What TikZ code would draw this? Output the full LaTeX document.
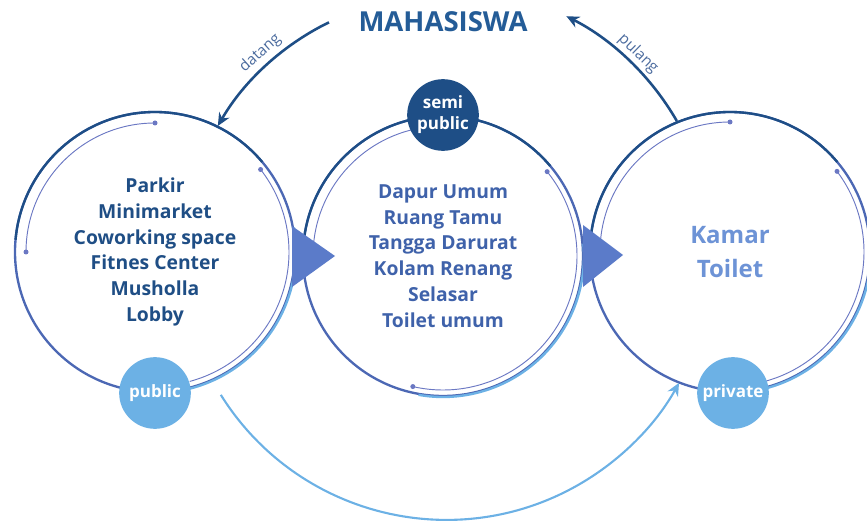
\documentclass[tikz,border=0pt]{standalone}
\usepackage{fontspec}
\setmainfont{Open Sans}
\usetikzlibrary{calc,arrows.meta}
\definecolor{navy}{HTML}{1E4E86}
\definecolor{midblue}{HTML}{4C68B4}
\definecolor{lightblue}{HTML}{6CB1E5}
\definecolor{thinblue}{HTML}{6B78C3}
\definecolor{triblue}{HTML}{5B7BC9}
\definecolor{titleblue}{HTML}{245C97}
\definecolor{listone}{HTML}{1F4E85}
\definecolor{listtwo}{HTML}{3F62AA}
\definecolor{listthree}{HTML}{6D93D6}
\definecolor{lblblue}{HTML}{4B6B9E}
\begin{document}
\begin{tikzpicture}[x=0.03cm,y=0.03cm,
  ring/.style={line width=2pt},
  thinarc/.style={line width=0.8pt,thinblue},
  flow/.style={line width=2.2pt,-{Stealth[length=11pt,width=10pt]}},
  zone/.style={circle,fill=#1,text=white,inner sep=0pt,minimum size=2.15cm,
    align=center,font=\bfseries\fontsize{14.5}{18}\selectfont},
  roomlist/.style={align=center,font=\bfseries\fontsize{16.5}{22}\selectfont},
  lbl/.style={text=lblblue,font=\fontsize{13}{15}\selectfont}]
\useasboundingbox (0,0) rectangle (867,524);

\coordinate (c1) at (155,272);
\coordinate (c2) at (443,268);
\coordinate (c3) at (730,272);

% public ring
\draw[ring,midblue] (c1) circle (140);
\draw[ring,navy] ($(c1)+(40:140)$) arc[start angle=40,end angle=175,radius=140];
\draw[ring,lightblue] ($(c1)+(10:141)$) arc[start angle=10,end angle=-90,radius=141];
\draw[thinarc] ($(c1)+(90:129)$) arc[start angle=90,end angle=180,radius=129];
\draw[thinarc] ($(c1)+(38:134)$) arc[start angle=38,end angle=-75,radius=134];
\fill[thinblue] ($(c1)+(90:129)$) circle (2.5);
\fill[thinblue] ($(c1)+(180:129)$) circle (2.5);
\fill[thinblue] ($(c1)+(38:134)$) circle (2.5);

% semi public ring
\draw[ring,midblue] (c2) circle (140);
\draw[ring,navy] ($(c2)+(40:140)$) arc[start angle=40,end angle=178,radius=140];
\draw[ring,lightblue] ($(c2)+(5:141)$) arc[start angle=5,end angle=-100,radius=141];
\draw[thinarc] ($(c2)+(100:130)$) arc[start angle=100,end angle=178,radius=130];
\draw[thinarc] ($(c2)+(39:134)$) arc[start angle=39,end angle=-103,radius=134];
\fill[thinblue] ($(c2)+(39:134)$) circle (2.5);
\fill[thinblue] ($(c2)+(-103:134)$) circle (2.5);

% private ring
\draw[ring,midblue] (c3) circle (140);
\draw[ring,navy] ($(c3)+(40:140)$) arc[start angle=40,end angle=178,radius=140];
\draw[ring,lightblue] ($(c3)+(10:141)$) arc[start angle=10,end angle=-90,radius=141];
\draw[thinarc] ($(c3)+(90:130)$) arc[start angle=90,end angle=178,radius=130];
\draw[thinarc] ($(c3)+(37:134)$) arc[start angle=37,end angle=-75,radius=134];
\fill[thinblue] ($(c3)+(90:130)$) circle (2.5);
\fill[thinblue] ($(c3)+(37:134)$) circle (2.5);

% big arrows between the rings
\fill[triblue] (292,298) -- (335,268) -- (292,237) -- cycle;
\fill[triblue] (583,299) -- (623,269) -- (583,237) -- cycle;

\node[zone=lightblue] (public) at (155,131) {public};
\node[zone=navy] (semi) at (443,409) {semi\\public};
\node[zone=lightblue] (private) at (733,131) {private};

\node[roomlist,text=listone] (list1) at (c1) {Parkir\\Minimarket\\Coworking space\\Fitnes Center\\Musholla\\Lobby};
\node[roomlist,text=listtwo] (list2) at (c2) {Dapur Umum\\Ruang Tamu\\Tangga Darurat\\Kolam Renang\\Selasar\\Toilet umum};
\node[align=center,text=listthree,font=\bfseries\fontsize{20.5}{29}\selectfont] (list3) at (c3) {Kamar\\Toilet};

\node[text=titleblue,font=\bfseries\fontsize{23.5}{27}\selectfont] (mhs) at (443,502) {MAHASISWA};

% flows
\draw[flow,navy] ($(c2)+(116:260)$) arc[start angle=116,end angle=150,radius=260];
\draw[flow,navy] ($(c2)+(30:270)$) arc[start angle=30,end angle=63,radius=268];
\draw[flow,lightblue,line width=1.8pt] ($(c2)+(212:262)$) arc[start angle=212,end angle=331,radius=266];
\node[lbl,rotate=42] (datang) at ($(c2)+(132:273)$) {datang};
\node[lbl,rotate=-44] (pulang) at ($(c2)+(46:281)$) {pulang};
\end{tikzpicture}
\end{document}
